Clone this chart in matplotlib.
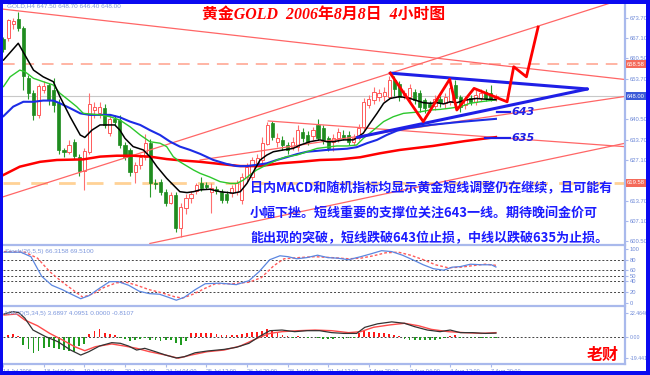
import matplotlib
matplotlib.use('Agg')
import matplotlib.pyplot as plt
import numpy as np
from matplotlib.patches import Rectangle

# ---------------- data ----------------
opens = [666.8, 667.0, 671.8, 673.5, 670.3, 654.0, 649.2, 642.0, 650.0, 651.7,
         650.0, 645.8, 630.5, 629.8, 633.0, 628.0, 623.5, 629.7, 643.5, 642.5,
         644.0, 636.0, 640.5, 640.2, 632.0, 630.4, 623.2, 625.5, 628.0, 632.7,
         619.7, 620.0, 616.6, 613.0, 615.6, 604.8, 611.5, 614.6, 617.0, 619.5,
         618.8, 616.6, 617.5, 616.6, 616.0, 616.4, 616.5, 614.0, 621.5, 621.5,
         626.0, 627.0, 632.5, 639.3, 633.0, 633.7, 632.0, 631.5, 631.3, 636.3,
         635.3, 635.0, 638.6, 637.6, 634.3, 633.0, 634.3, 635.3, 635.3, 633.0,
         634.3, 638.0, 645.3, 646.8, 647.8, 648.0, 647.8, 653.5, 652.0, 648.5,
         647.8, 649.4, 649.0, 646.8, 645.5, 644.8, 647.0, 645.8, 646.0, 651.8,
         647.8, 645.0, 647.5, 646.0, 647.5, 649.5, 649.2, 647.5]
highs = [667.5, 673.5, 673.7, 675.7, 671.0, 655.0, 650.0, 652.0, 653.0, 652.5,
         654.0, 647.0, 631.0, 633.5, 634.0, 629.0, 631.0, 649.0, 646.0, 646.0,
         645.5, 641.5, 642.0, 642.0, 633.0, 631.0, 626.5, 629.0, 635.5, 634.0,
         621.0, 621.0, 617.5, 616.5, 616.5, 613.0, 616.0, 617.0, 619.5, 621.5,
         620.0, 619.5, 618.5, 617.5, 617.0, 619.0, 620.5, 622.8, 626.0, 628.0,
         629.0, 634.5, 639.6, 639.8, 636.0, 635.0, 633.0, 634.5, 638.5, 637.5,
         636.5, 638.0, 640.5, 638.5, 635.0, 635.5, 637.5, 637.0, 636.5, 635.5,
         639.0, 647.5, 648.5, 651.0, 650.5, 651.0, 654.5, 654.5, 653.0, 650.0,
         652.0, 650.5, 650.0, 647.5, 646.5, 648.5, 648.0, 649.0, 652.0, 653.5,
         648.5, 648.0, 648.5, 650.0, 650.5, 650.3, 651.7, 648.7]
lows = [662.5, 666.0, 670.0, 669.5, 650.0, 647.0, 640.3, 641.0, 649.0, 645.0,
        643.0, 629.0, 628.0, 629.0, 627.5, 622.0, 617.3, 629.0, 641.0, 641.0,
        637.5, 635.0, 638.5, 631.0, 627.0, 622.0, 619.5, 624.0, 627.0, 615.0,
        617.5, 615.5, 612.0, 612.5, 603.5, 601.8, 609.5, 613.0, 616.0, 617.0,
        617.5, 609.7, 616.0, 613.0, 613.0, 615.0, 615.5, 612.5, 620.0, 620.5,
        625.0, 626.0, 632.0, 633.5, 631.5, 630.5, 629.0, 630.5, 630.0, 633.0,
        632.0, 633.5, 633.5, 632.5, 630.0, 630.0, 633.0, 633.5, 632.0, 632.0,
        633.5, 637.0, 644.0, 645.5, 646.5, 646.5, 647.0, 648.0, 646.5, 647.0,
        646.5, 645.5, 643.0, 642.5, 643.0, 643.5, 644.5, 644.0, 645.0, 646.5,
        643.0, 643.8, 645.0, 645.0, 646.5, 646.5, 646.5, 646.4]
closes = [663.5, 673.0, 672.8, 670.3, 654.5, 649.0, 642.0, 651.3, 651.5, 646.8,
          645.0, 630.3, 629.8, 632.0, 628.5, 623.5, 630.0, 645.5, 644.5, 644.5,
          638.6, 640.5, 639.5, 632.0, 628.0, 623.2, 625.5, 628.1, 632.7, 619.5,
          619.2, 616.6, 613.0, 615.6, 604.8, 611.7, 614.6, 616.0, 618.8, 617.8,
          618.2, 618.0, 617.0, 614.0, 614.0, 618.0, 619.6, 621.5, 624.8, 627.0,
          627.7, 632.8, 638.6, 634.8, 634.2, 632.0, 630.4, 633.0, 637.0, 634.3,
          633.0, 636.9, 634.3, 633.6, 631.0, 634.3, 636.3, 634.3, 633.0, 634.3,
          637.6, 646.0, 647.2, 649.4, 649.0, 649.4, 653.5, 650.5, 647.8, 649.0,
          650.8, 646.8, 644.5, 644.2, 644.5, 647.0, 645.8, 647.8, 650.8, 647.5,
          644.5, 647.0, 646.0, 648.5, 649.2, 647.3, 647.2, 648.0]

# moving averages (bar position, price)
ma_black_bar = [0.1, 3.0, 6.0, 7.9, 9.9, 11.2, 13.2, 15.2, 16.1, 17.5, 19.1, 22.0, 23.0, 24.0,
                25.6, 27.6, 28.9, 30.3, 32.2, 33.5, 34.8, 36.2, 37.5, 38.8, 40.7, 42.7, 45.3,
                46.7, 48.0, 49.3, 50.6, 51.9, 53.2, 55.2, 57.1, 58.5, 60.4, 62.4, 63.7, 65.0,
                67.0, 69.0, 70.9, 72.2, 73.6, 74.9, 76.2, 78.1, 80.1, 81.4, 82.7, 84.1, 85.4,
                86.7, 88.0, 89.3, 90.6, 91.9, 93.2, 94.5, 95.9, 97.0]
ma_black_price = [659.9, 665.4, 656.6, 654.4, 652.8, 647.9, 641.3, 635.3, 634.5, 636.9, 638.6,
                  638.6, 636.9, 634.2, 631.5, 630.4, 628.2, 624.9, 621.1, 618.9, 616.7, 616.4,
                  616.7, 617.3, 617.5, 616.7, 616.2, 616.7, 619.4, 623.3, 627.1, 628.7, 629.8,
                  630.4, 630.9, 632.0, 633.1, 633.7, 633.1, 633.1, 633.7, 633.7, 635.9, 639.1,
                  642.4, 645.7, 647.3, 647.9, 647.3, 646.6, 645.9, 645.7, 645.9, 645.5, 646.2,
                  645.9, 646.6, 647.0, 647.3, 647.1, 647.0, 646.9]
ma_green_bar = [0.1, 1.4, 3.3, 4.3, 6.0, 7.9, 9.9, 11.2, 12.5, 14.5, 15.8, 17.1, 19.1, 21.1,
                23.0, 25.0, 27.0, 28.9, 30.9, 32.2, 33.5, 34.8, 36.2, 37.5, 38.8, 40.7, 42.7,
                44.7, 46.0, 47.3, 48.6, 49.9, 51.9, 53.9, 55.8, 57.8, 59.8, 61.8, 63.7, 65.7,
                67.7, 69.6, 70.9, 72.9, 74.9, 76.8, 78.8, 82.1, 84.1, 86.0, 88.0, 90.0, 91.9,
                93.9, 95.9, 97.0]
ma_green_price = [651.2, 654.4, 656.6, 656.1, 653.9, 652.8, 651.7, 649.0, 647.3, 644.6, 642.4,
                  642.2, 641.9, 641.3, 640.2, 638.0, 635.3, 633.1, 632.6, 631.5, 628.2, 626.5,
                  625.1, 623.8, 622.7, 621.5, 620.0, 619.4, 619.4, 620.5, 622.2, 623.8, 625.5,
                  627.1, 628.2, 628.7, 629.8, 630.9, 631.3, 631.7, 631.7, 632.0, 634.2, 636.9,
                  639.7, 641.3, 642.4, 642.9, 643.5, 643.7, 644.1, 644.6, 645.7, 646.2, 646.6,
                  646.8]
ma_blue_bar = [0.1, 2.0, 4.0, 6.0, 7.9, 9.9, 11.2, 13.2, 15.2, 17.1, 21.1, 23.0, 25.0, 27.0,
               28.9, 30.9, 32.9, 34.8, 36.8, 38.8, 41.4, 44.0, 46.0, 48.0, 49.9, 51.9, 53.9,
               55.8, 57.8, 59.8, 61.8, 63.7, 65.7, 67.7, 69.6, 71.6, 73.6, 75.5, 77.5, 79.5,
               84.1, 90.0, 97.0]
ma_blue_price = [641.5, 644.6, 646.2, 646.2, 646.6, 646.6, 645.7, 644.1, 642.4, 641.9, 641.9,
                 641.1, 639.7, 638.6, 636.9, 635.3, 633.1, 631.5, 630.4, 629.1, 627.1, 625.8,
                 625.1, 625.1, 625.5, 626.0, 627.1, 628.0, 629.0, 629.8, 630.1, 630.4, 630.6,
                 630.8, 631.3, 632.6, 633.7, 635.3, 636.7, 637.5, 638.6, 639.6, 640.6]
ma_red_bar = [0.1, 3.3, 7.3, 10.6, 15.8, 19.1, 22.4, 25.6, 28.9, 32.2, 35.5, 38.8, 42.7, 46.7,
              50.6, 54.5, 58.5, 62.4, 66.3, 70.3, 74.2, 78.1, 84.6, 90.9, 97.0]
ma_red_price = [622.2, 624.9, 626.5, 627.1, 627.3, 628.2, 628.5, 628.5, 628.2, 627.4, 626.9,
                626.5, 625.8, 625.1, 625.1, 626.0, 626.5, 627.1, 627.3, 628.0, 629.3, 630.4,
                631.7, 633.3, 634.6]

# hand-drawn analysis lines (bar position, price)
trend_lines = [((0.0, 676.6), (123.0, 653.4)),
               ((0.0, 615.0), (119.5, 678.6)),
               ((52.2, 639.9), (123.0, 631.4)),
               ((38.8, 627.1), (123.0, 648.1)),
               ((28.9, 599.7), (123.0, 632.8))]
triangle_upper = ((76.2, 655.6), (115.0, 650.4))
triangle_lower = ((69.7, 634.5), (115.0, 650.4))
zigzag_bar = [76.2, 82.7, 87.9, 89.3, 92.7, 99.2, 100.5, 103.0, 105.3]
zigzag_price = [655.6, 639.7, 653.6, 643.5, 650.6, 646.2, 657.7, 654.4, 670.7]
support_levels = [643, 635]
support_level_price = [642.9, 634.4]
support_pointer_start = [97.2, 94.9]
dash_levels = [658.58, 619.58]
last_price = 648.00

price_ticks = [673.70, 667.10, 660.50, 653.70, 647.10, 640.50, 633.70, 627.10,
               620.50, 613.70, 607.10, 600.50]
hidden_price_ticks = [647.10, 620.50]   # covered by the price boxes in the reference

# stochastic (bar position, value)
stoch_main_bar = [0.2, 3.5, 5.5, 7.6, 9.6, 11.7, 13.7, 15.3, 16.9, 19.0, 21.0, 22.7, 24.7, 26.8,
                  28.8, 30.8, 32.5, 34.1, 35.7, 37.8, 39.8, 42.7, 45.9, 48.4, 50.4, 52.5, 54.5,
                  56.1, 57.8, 59.8, 61.9, 63.9, 65.9, 68.0, 70.4, 72.5, 74.5, 76.5, 78.6, 80.6,
                  82.7, 84.7, 86.7, 88.4, 90.0, 92.0, 94.1, 96.1, 97.0]
stoch_main_val = [94, 94, 85.6, 49.1, 32.3, 23.9, 14.4, 7.1, 12.7, 26.7, 39, 39, 32.3, 21.1,
                  16.6, 15.5, 9.9, 4.3, 9.9, 23.9, 35.1, 36.2, 33.4, 40.7, 57.6, 80, 87.3,
                  85.6, 81.7, 83.9, 88.4, 83.9, 82.8, 80, 85.6, 91.2, 96.8, 95.1, 88.4, 80,
                  70.5, 63.2, 60.4, 66, 67.1, 71.6, 70.5, 70.5, 66.3]
stoch_sig_bar = [0.2, 4.3, 6.8, 9.2, 11.7, 13.7, 15.7, 17.8, 19.8, 22.3, 24.3, 26.3, 28.8, 31.2,
                 33.7, 35.3, 37.4, 39.8, 41.8, 45.1, 48.4, 50.8, 53.3, 55.3, 58.2, 61.4, 64.7,
                 68.0, 70.4, 72.9, 75.3, 77.8, 80.2, 82.7, 85.1, 87.6, 90.0, 92.4, 94.9, 97.0]
stoch_sig_val = [95.1, 94, 82.8, 57.6, 37.9, 23.9, 9.9, 16.6, 27.8, 36.8, 37.9, 32.3, 23.9,
                 18.3, 11, 8.2, 15.5, 26.7, 35.1, 35.1, 37.9, 46.3, 68.8, 81.7, 83.9, 85.6,
                 83.9, 81.7, 82.8, 87.3, 92.9, 94, 88.4, 80, 70.5, 64.9, 66, 68.8, 71.6, 69.5]
stoch_levels = [80, 60, 50, 40, 20]
stoch_ticks = [100, 80, 60, 50, 40, 20, 0]

# MACD (bar position, value)
macd_bar = [0.2, 1.9, 3.1, 4.3, 5.9, 8.4, 10.8, 13.3, 15.3, 16.9, 19.0, 21.4, 23.1, 24.7, 26.3,
            27.9, 30.0, 32.0, 34.1, 35.7, 37.8, 40.2, 43.5, 45.9, 48.4, 50.4, 52.5, 54.9, 57.4,
            59.8, 62.3, 64.7, 67.1, 69.6, 71.2, 73.7, 76.5, 79.0, 81.0, 83.5, 86.0, 88.0, 90.0,
            92.4, 94.9, 97.0]
macd_val = [21.2, 23.4, 22.5, 17.4, 6.5, 0.4, -4.2, -11.9, -16.5, -13.4, -8.2, -5.1, -5.7,
            -8.2, -11.9, -10.3, -13.4, -16.5, -19.2, -18.0, -14.4, -12.8, -11.3, -9.4, -5.7,
            0.4, 5.9, 6.5, 5.0, 5.9, 5.9, 4.1, 3.4, 3.4, 9.0, 12.2, 14.0, 12.7, 9.6, 6.5, 5.0,
            6.5, 4.1, 4.1, 3.4, 3.69]
signal_bar = [0.2, 2.7, 4.3, 6.8, 9.2, 11.7, 14.1, 16.1, 18.2, 21.4, 23.9, 26.3, 28.8, 32.0,
              34.5, 37.0, 40.2, 43.5, 46.7, 50.0, 52.5, 54.9, 58.2, 61.4, 64.7, 68.0, 70.4,
              72.9, 76.1, 79.0, 81.8, 84.3, 87.6, 90.8, 94.1, 97.0]
signal_val = [20.3, 21.2, 15.7, 10.4, 3.4, -2.6, -8.8, -12.5, -8.8, -6.3, -8.2, -10.3, -13.4,
              -16.5, -19.4, -16.5, -13.4, -11.9, -8.2, -1.1, 3.4, 5.0, 5.9, 6.5, 5.9, 4.1, 5.0,
              9.0, 11.2, 12.7, 10.4, 7.1, 5.0, 4.1, 3.4, 4.10]
histogram = [0.5, 2, 2.5, 1, -7, -11, -15, -13, -10, -9, -10, -11, -12, -13, -14, -8, -6, 3, 6,
             7, 4, 3, 2, -1, -2, -4, -3, -2, -1, -3, -3, -4, -3, -3, -5, -7, -4, 4, 4, 4, 4, 4,
             3, 2, 1.5, 1.5, 1.5, 3, 4, 5, 5, 6, 7, 6, 4, 2, 1, -0.5, 1, 0.5, -0.5, 0.5, -1,
             -1.5, -2, -1.5, -1, -1.5, -1, -1, 4, 6, 5, 5, 4, 4, 3, 2, 1, -2, -3, -3, -3, -3,
             -3, -3, -2, -1, 1, 1.5, -1, 0.5, -0.5, -1, -1, -1, -1, -0.81]
macd_ticks = [22.4646, 0.0, -19.4418]
macd_tick_labels = ['22.4646', '0.00', '-19.4418']

date_labels = ['14 Jul 2006', '18 Jul 04:00', '19 Jul 12:00', '20 Jul 20:00', '24 Jul 04:00',
               '25 Jul 12:00', '26 Jul 20:00', '28 Jul 04:00', '31 Jul 12:00', '1 Aug 20:00',
               '3 Aug 04:00', '4 Aug 12:00', '7 Aug 20:00']
date_bars = [0, 8, 16, 24, 32, 40, 48, 56, 64, 72, 80, 88, 96]

title = '黄金GOLD  2006年8月8日  4小时图'
comment_lines = ['日内MACD和随机指标均显示黄金短线调整仍在继续，且可能有',
                 '小幅下挫。短线重要的支撑位关注643一线。期待晚间金价可',
                 '能出现的突破，短线跌破643位止损，中线以跌破635为止损。']
author = '老财'

# ---------------- layout ----------------
W, H = 650, 375
fig = plt.figure(figsize=(6.5, 3.75), dpi=100)
fig.patch.set_facecolor('white')


def box(l, t, r, b):
    return [l / W, 1 - b / H, (r - l) / W, (b - t) / H]


def fx(x):
    return x / W


def fy(y):
    return 1 - y / H


AXC = '#6f8ad8'
SPC = '#a9b9ec'
CJK = ['Noto Sans CJK SC', 'DejaVu Sans']
SMALL = 'Liberation Sans'

ax = fig.add_axes(box(3, 4, 625, 245))
axs = fig.add_axes(box(3, 247, 625, 306))
axm = fig.add_axes(box(3, 308, 625, 364))

XMIN, XMAX = 0.0, 122.4
for a in (ax, axs, axm):
    a.set_xlim(XMIN, XMAX)
    a.set_facecolor('white')
    for s in ('left', 'top'):
        a.spines[s].set_visible(False)
    for s in ('right', 'bottom'):
        a.spines[s].set_color(SPC)
        a.spines[s].set_linewidth(1.6)
    a.yaxis.tick_right()
    a.tick_params(axis='y', colors=SPC, length=2, width=0.8, pad=1.5, labelsize=4.2,
                  labelcolor=AXC)

ax.set_ylim(599.20, 678.29)
axs.set_ylim(-6.5, 103.7)
axm.set_ylim(-24.72, 26.75)

# ---------------- main chart ----------------
o = np.array(opens); hh = np.array(highs); ll = np.array(lows); c = np.array(closes)
idx = np.arange(len(c))
up = c >= o
ax.vlines(idx[up], ll[up], hh[up], color='#ff7070', lw=0.8, zorder=2)
ax.vlines(idx[~up], ll[~up], hh[~up], color='#2a9a2a', lw=0.8, zorder=2)
bb = np.minimum(o, c)
bh = np.maximum(np.abs(c - o), 0.3)
ax.bar(idx[up], bh[up], bottom=bb[up], width=0.62, facecolor='white', edgecolor='#ff5a5a',
       lw=0.7, zorder=2.1)
ax.bar(idx[~up], bh[~up], bottom=bb[~up], width=0.62, facecolor='#1f8c1f', edgecolor='#1f8c1f',
       lw=0.5, zorder=2.1)

ax.axhline(last_price, color='#c8c8c8', lw=0.8, zorder=1)
ax.axhline(dash_levels[0], color='#ffb4a4', lw=1.4, dashes=(6, 4), zorder=1)
ax.axhline(dash_levels[1], color='#ffd296', lw=2.0, dashes=(6, 4), zorder=1)

ax.plot(ma_red_bar, ma_red_price, color='#ff0000', lw=1.8, zorder=3)
ax.plot(ma_blue_bar, ma_blue_price, color='#1c2ce6', lw=1.5, zorder=3)
ax.plot(ma_green_bar, ma_green_price, color='#2dc82d', lw=1.0, zorder=3.1)
ax.plot(ma_black_bar, ma_black_price, color='#000000', lw=1.1, zorder=3.2)

for (x0, y0), (x1, y1) in trend_lines:
    ax.plot([x0, x1], [y0, y1], color='#ff6666', lw=0.9, zorder=2.5)

for (x0, y0), (x1, y1) in (triangle_upper, triangle_lower):
    ax.plot([x0, x1], [y0, y1], color='#1f1fe6', lw=2.2, zorder=4, solid_capstyle='round')
ax.plot(zigzag_bar, zigzag_price, color='#ff0000', lw=2.0, zorder=4.2)

for lvl, p, x0 in zip(support_levels, support_level_price, support_pointer_start):
    ax.plot([x0, 99.8], [p, p], color='#1f1fe6', lw=1.6, zorder=4)
    ax.text(100.1, p, str(lvl), color='#1f1fe6', fontsize=8.0, fontstyle='italic',
            fontweight='bold', family='DejaVu Sans', va='center', ha='left', zorder=5)

ax.set_yticks(price_ticks)
ax.set_yticklabels(['' if v in hidden_price_ticks else f'{v:.2f}' for v in price_ticks])
ax.set_xticks([])

# price boxes on the right axis
for val, fc in ((dash_levels[0], '#f46a5a'), (last_price, '#3a5ad8'), (dash_levels[1], '#f46a5a')):
    ax.text(1.0035, val, f'{val:.2f}', transform=ax.get_yaxis_transform(), color='white',
            fontsize=4.2, family=SMALL, va='center', ha='left', zorder=10, clip_on=False,
            bbox=dict(boxstyle='square,pad=0.25', fc=fc, ec='none'))

# ---------------- stochastic ----------------
for lv in stoch_levels:
    axs.axhline(lv, color='#444444', lw=0.7, dashes=(2, 2), zorder=1)
axs.plot(stoch_sig_bar, stoch_sig_val, color='#ff5a5a', lw=1.0, dashes=(2, 1.5), zorder=2)
axs.plot(stoch_main_bar, stoch_main_val, color='#5b86e0', lw=0.9, zorder=3)
axs.set_yticks(stoch_ticks)
axs.set_yticklabels([str(v) for v in stoch_ticks])
axs.set_xticks([])

# ---------------- MACD ----------------
hist = np.array(histogram)
hcol = np.where(hist >= 0, '#ff1a1a', '#1f9a1f')
axm.bar(np.arange(len(hist)), hist, width=0.35, color=hcol, zorder=2)
axm.axhline(0, color='#444444', lw=0.7, dashes=(2, 2), zorder=1)
axm.plot(signal_bar, signal_val, color='#ff4a4a', lw=1.0, zorder=3)
axm.plot(macd_bar, macd_val, color='#333333', lw=0.9, zorder=3.1)
axm.set_yticks(macd_ticks)
axm.set_yticklabels(macd_tick_labels)
axm.tick_params(axis='y', labelsize=3.8)
axm.set_xticks(date_bars)
axm.set_xticklabels(date_labels)
axm.tick_params(axis='x', colors=SPC, length=2.5, width=0.8, pad=1, labelsize=4.0,
                labelcolor=AXC)
for lbl in axm.get_xticklabels():
    lbl.set_ha('left')

for a in (ax, axs, axm):
    for lbl in a.get_yticklabels() + a.get_xticklabels():
        lbl.set_family(SMALL)

# ---------------- headers and texts ----------------
fig.text(fx(7), fy(5.5), 'GOLD,H4 647.50 648.70 646.40 648.00', color='#7b96dc', fontsize=4.6,
         family=SMALL, va='center', ha='left')
fig.text(fx(5), fy(252), 'Stoch(26,5,5) 66.3158 69.5100', color='#7b96dc', fontsize=4.6,
         family=SMALL, va='center', ha='left')
fig.text(fx(5), fy(313.5), 'MACD(5,34,5) 3.6897 4.0951 0.0000 -0.8107', color='#7b96dc',
         fontsize=4.6, family=SMALL, va='center', ha='left')

fig.text(fx(202), fy(14.5), title, color='#ff0000', fontsize=11.4, fontweight='bold',
         fontstyle='italic', family=['Liberation Serif', 'Noto Sans CJK SC'], va='center',
         ha='left')

for i, line in enumerate(comment_lines):
    fig.text(fx(250), fy(188.5 + 24.7 * i), line, color='#1c1cff', fontsize=9.4,
             fontweight='bold', family=CJK, va='center', ha='left')

fig.text(fx(603), fy(355), author, color='#ff0000', fontsize=11.5, fontweight='bold',
         family=CJK, va='center', ha='center')

# ---------------- blue frame ----------------
for (l, t, w, h) in ((0, 0, 650, 4), (0, 0, 3, 375), (0, 371, 650, 4), (646, 0, 4, 375)):
    fig.patches.append(Rectangle((l / W, 1 - (t + h) / H), w / W, h / H, transform=fig.transFigure,
                                 facecolor='#0a0af0', edgecolor='none', zorder=20))

fig.savefig('out.png', dpi=100, facecolor='white')
